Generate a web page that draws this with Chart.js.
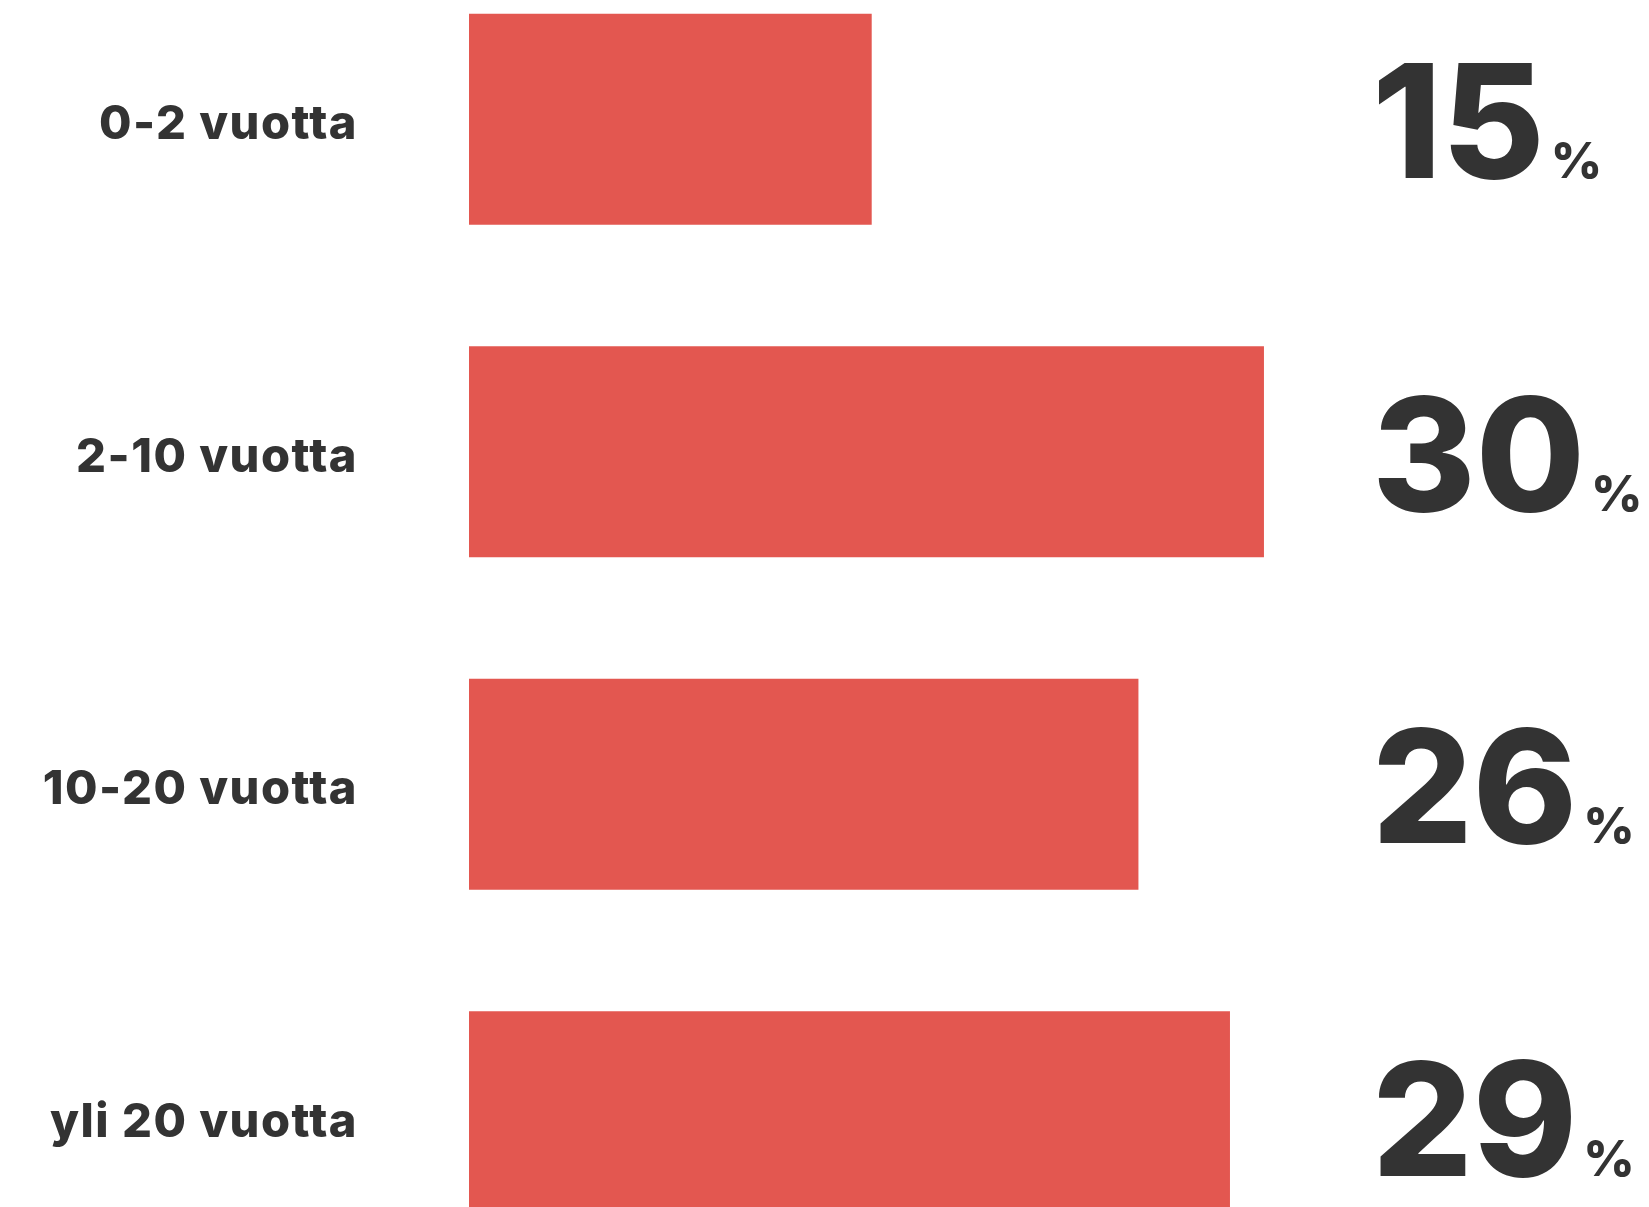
<!DOCTYPE html>
<html>
<head>
<meta charset="utf-8">
<script src="https://cdn.jsdelivr.net/npm/chart.js@4/dist/chart.umd.min.js"></script>
<style>
  html, body { margin: 0; padding: 0; background: #ffffff; overflow: hidden; width: 1649px; height: 1207px; position: relative; }
  #c { position: absolute; left: 0; top: -47px; display: block; }
</style>
</head>
<body>
<canvas id="c" width="1649" height="1330"></canvas>
<script>
const categories = ["0-2 vuotta", "2-10 vuotta", "10-20 vuotta", "yli 20 vuotta"];
const values = [15.4, 30.4, 25.6, 29.1];
const valueLabels = ["15", "30", "26", "29"];
const xMax = 40;

const TEXT = "#333333";
const BAR = "#E35750";
const FONT = "Inter, 'Open Sans', 'DejaVu Sans', sans-serif";

const spacingPlugin = {
  id: "spacing",
  beforeDraw(chart) { chart.ctx.letterSpacing = "1.5px"; }
};

const valueLabelPlugin = {
  id: "valueLabels",
  afterDatasetsDraw(chart) {
    const ctx = chart.ctx;
    const meta = chart.getDatasetMeta(0);
    const xStart = chart.chartArea.right - 143;
    ctx.save();
    ctx.letterSpacing = "0px";
    ctx.fillStyle = TEXT;
    ctx.textBaseline = "alphabetic";
    ctx.textAlign = "left";
    meta.data.forEach((bar, i) => {
      const base = bar.y + 59;
      ctx.font = "800 158px " + FONT;
      const txt = valueLabels[i];
      ctx.fillText(txt, xStart, base);
      const w = ctx.measureText(txt).width;
      ctx.font = "800 50px " + FONT;
      ctx.fillText("%", xStart + w + 6, base);
    });
    ctx.restore();
  }
};

new Chart(document.getElementById("c"), {
  type: "bar",
  data: {
    labels: categories,
    datasets: [{
      data: values,
      backgroundColor: BAR,
      borderWidth: 0,
      barPercentage: 1,
      categoryPercentage: 0.635
    }]
  },
  options: {
    indexAxis: "y",
    responsive: false,
    maintainAspectRatio: false,
    animation: false,
    layout: { padding: { left: 0, right: 134, top: 0, bottom: 0 } },
    plugins: { legend: { display: false }, tooltip: { enabled: false } },
    scales: {
      x: { display: false, min: 0, max: xMax },
      y: {
        grid: { display: false, drawTicks: false },
        border: { display: false },
        afterFit(scale) {
          scale.width = 469;
          scale.paddingTop = 0;
          scale.paddingBottom = 0;
        },
        ticks: {
          padding: 111,
          labelOffset: 6,
          color: TEXT,
          font: { family: FONT, size: 47, weight: "800" }
        }
      }
    }
  },
  plugins: [spacingPlugin, valueLabelPlugin]
});
</script>
</body>
</html>
